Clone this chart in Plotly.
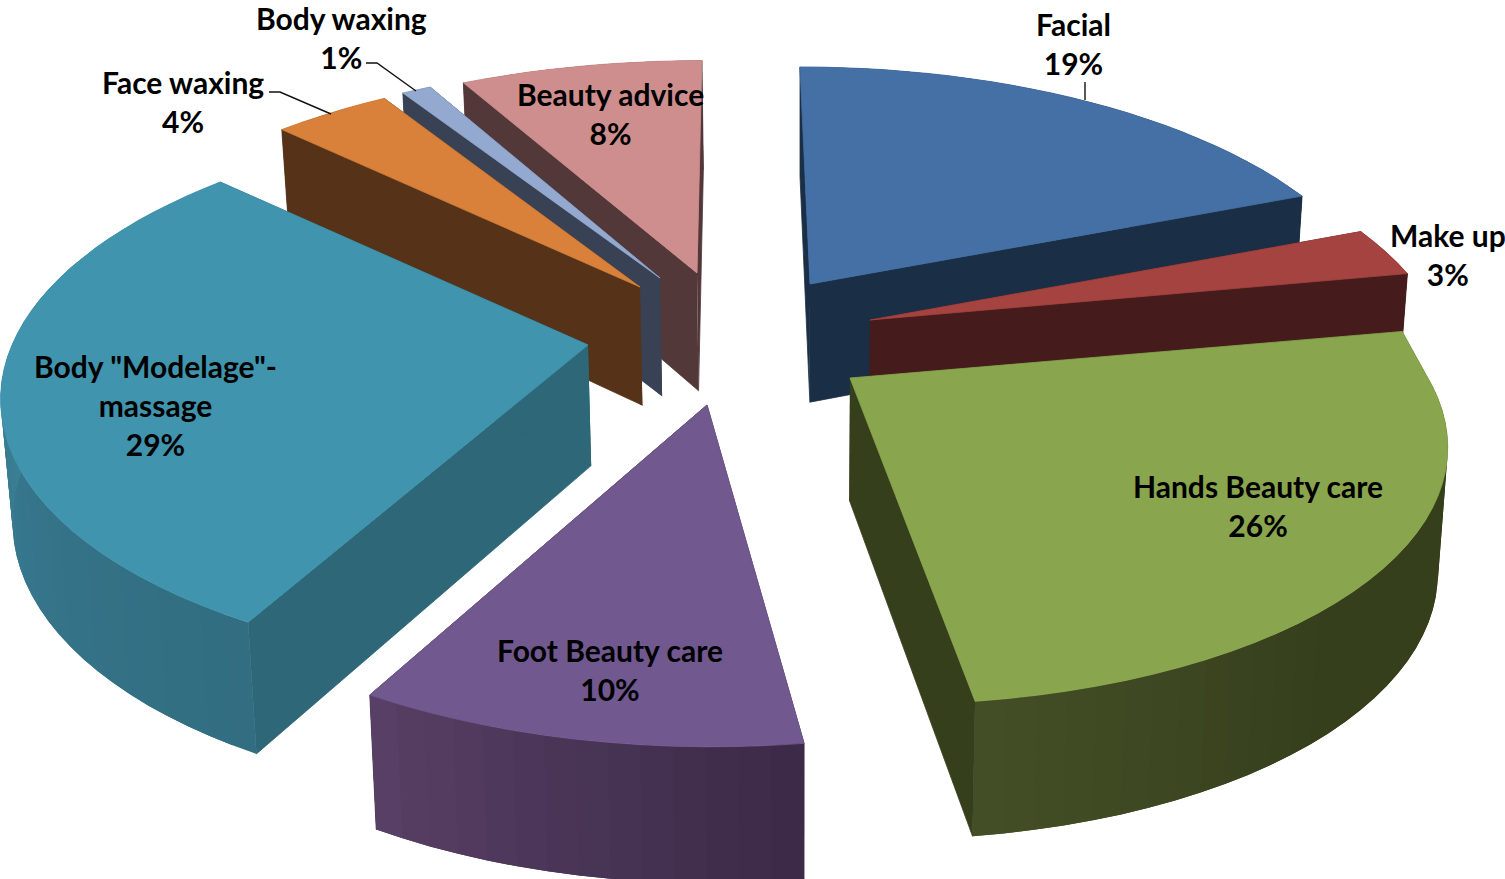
import numpy as np
import plotly.graph_objects as go

# ---- data ----
labels = ["Facial", "Make up", "Hands Beauty care", "Foot Beauty care",
          'Body "Modelage"-<br>massage', "Face waxing", "Body waxing", "Beauty advice"]
values = [19, 3, 26, 10, 29, 4, 1, 8]

# ---- styling / projection parameters ----
top_colors = ["#4570a6", "#a54340", "#89a54e", "#71588f", "#4094ad", "#d9813b", "#93a9cf", "#cf8e8e"]
wall_colors = ["#1a2f46", "#451c1b", "#363f1c", "#3b2a47", "#2e6777", "#563318", "#394255", "#523839"]
arc_stops = [
    [(0, "#1a2f46"), (360, "#1a2f46")],
    [(0, "#451c1b"), (360, "#451c1b")],
    [(79, "#363f1c"), (140, "#363f1c"), (173, "#444f26")],
    [(172, "#3a2946"), (209, "#584066")],
    [(208, "#326d80"), (240, "#35748a"), (285, "#3e8599"), (314, "#3e8599")],
    [(0, "#563318"), (360, "#563318")],
    [(0, "#394255"), (360, "#394255")],
    [(0, "#523839"), (360, "#523839")],
]
apex_x = [810, 870, 850, 707, 588, 640, 660, 697]
apex_y = [284, 320, 378, 405, 345, 287, 278, 273]
radius_x = [567, 568, 578, 579, 576, 562, 565, 585]
radius_y = [254, 256, 258, 270, 267, 263, 258, 257]
perspective = [0.17, 0.18, 0.21, 0.21, 0.178, 0.21, 0.21, 0.21]
shear_back = [0.046, 0.05, 0.104, 0.016, -0.04, 0.0, 0.0, -0.023]
shear_front = [0.046, 0.05, 0.104, 0.016, -0.04, 0.0, 0.0, -0.023]
curve_back = [0, 0, 0.005, 0, 0, 0, 0, 0]
VANISH_X = 800
DEPTH_SHRINK = 0.985
paint_order = [7, 6, 5, 0, 1, 4, 3, 2]

label_x = [1073, 1448, 1258, 610, 155, 183, 341, 610]
label_y = [43, 254, 505, 669, 405, 101, 37, 113]
leader_x = [[1085, 1085], [269, 280, 331], [366, 377, 416]]
leader_y = [[82, 100], [92, 92, 114], [63, 63, 91]]


def rim(i, deg):
    t = np.radians(deg)
    w = 1 + perspective[i] * np.cos(t)
    dx = radius_x[i] * np.sin(t) / w
    dy = -radius_y[i] * np.cos(t) / w
    s = np.where(dy < 0, shear_back[i], shear_front[i])
    c = np.where(dy < 0, curve_back[i], 0.0)
    return apex_x[i] + dx + s * dy + c * dy * dy, apex_y[i] + dy


def lower(x, y):
    x = np.asarray(x, dtype=float)
    y = np.asarray(y, dtype=float)
    return VANISH_X + (x - VANISH_X) * DEPTH_SHRINK, y + 118 + (y - 280) * 0.04


def hex_rgb(c):
    return np.array([int(c[k:k + 2], 16) for k in (1, 3, 5)], dtype=float)


def shade(stops, deg):
    d = [s[0] for s in stops]
    rgb = [hex_rgb(s[1]) for s in stops]
    vals = [int(round(np.interp(deg, d, [c[k] for c in rgb]))) for k in range(3)]
    return f"rgb({vals[0]},{vals[1]},{vals[2]})"


fig = go.Figure()


def poly(x, y, color, name=None, width=0.8):
    fig.add_trace(go.Scatter(
        x=list(x), y=list(y), mode="lines", fill="toself", fillcolor=color,
        line=dict(color=color, width=width), showlegend=False,
        hoverinfo="text" if name else "skip", text=name, name=name or "",
    ))


edges = np.concatenate([[0], np.cumsum(values)]) * 3.6

for i in paint_order:
    a0, a1 = edges[i], edges[i + 1]
    n = max(3, int((a1 - a0) / 2.5))
    th = np.linspace(a0, a1, n + 1)
    rx, ry = rim(i, th)
    bx, by = lower(rx, ry)
    # radial walls
    abx, aby = lower(apex_x[i], apex_y[i])
    for j in (0, n):
        poly([apex_x[i], rx[j], bx[j], abx], [apex_y[i], ry[j], by[j], aby], wall_colors[i])
    # outer wall: each shaded strip overlaps the next so that no seam shows
    for k in range(n):
        e = min(k + 2, n)
        poly([*rx[k:e + 1], *bx[k:e + 1][::-1]], [*ry[k:e + 1], *by[k:e + 1][::-1]],
             shade(arc_stops[i], (th[k] + th[k + 1]) / 2), width=0)
    # top face
    poly([apex_x[i], *rx, apex_x[i]], [apex_y[i], *ry, apex_y[i]], top_colors[i],
         f"{labels[i].replace('<br>', ' ')}: {values[i]}%")

for lx, ly in zip(leader_x, leader_y):
    fig.add_trace(go.Scatter(x=lx, y=ly, mode="lines", line=dict(color="#111111", width=1.4),
                             showlegend=False, hoverinfo="skip"))

for lab, val, x, y in zip(labels, values, label_x, label_y):
    fig.add_annotation(x=x, y=y, text=f"<b>{lab}<br>{val}%</b>", showarrow=False,
                       xanchor="center", yanchor="middle", align="center",
                       font=dict(family="Lato", size=30, color="#000000"))

fig.update_layout(
    width=1505, height=879, margin=dict(l=0, r=0, t=0, b=0),
    paper_bgcolor="white", plot_bgcolor="white", showlegend=False,
    xaxis=dict(range=[0, 1505], visible=False, fixedrange=True),
    yaxis=dict(range=[879, 0], visible=False, fixedrange=True),
)
fig.write_html("out.html", config={"displayModeBar": False},
               post_script="document.body.style.margin='0';")
